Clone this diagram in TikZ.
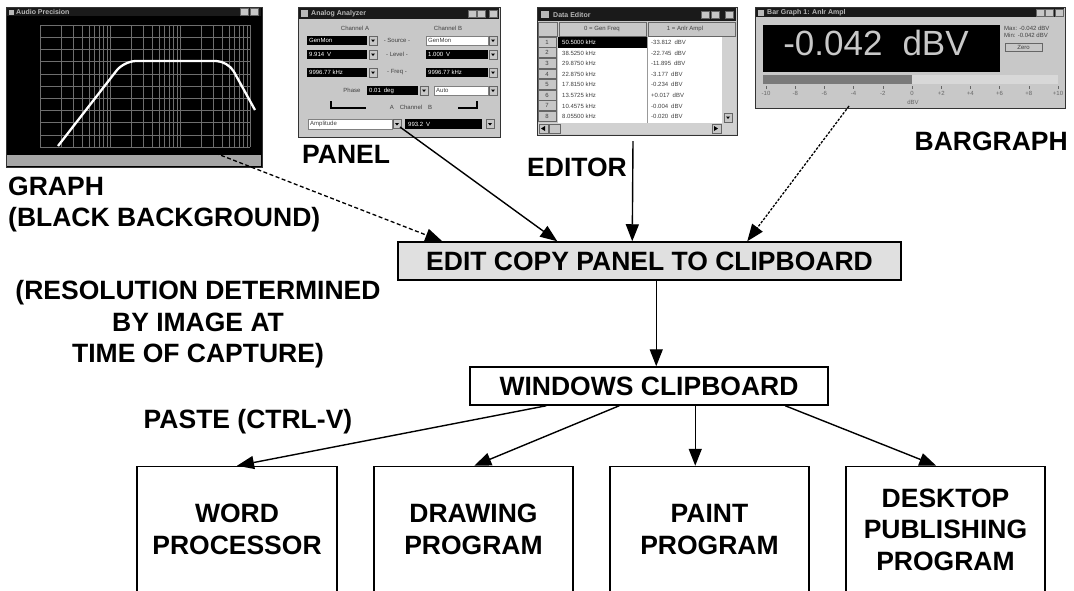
\documentclass[tikz,border=0pt]{standalone}
\usepackage{fontspec}
\setmainfont{Liberation Sans}
\usetikzlibrary{arrows.meta,calc}
\definecolor{winbg}{HTML}{C8C8C8}
\definecolor{titlec}{HTML}{1A1A1A}
\definecolor{titletx}{HTML}{B8B8B8}
\definecolor{gridc}{HTML}{6E6E6E}
\definecolor{editfill}{HTML}{E0E0E0}
\definecolor{bardark}{HTML}{7A7A7A}
\definecolor{barlight}{HTML}{D8D8D8}
\definecolor{dispfg}{HTML}{C8C8C8}
\tikzset{
  win/.style={draw=black!80, line width=1pt, fill=winbg, inner sep=0pt},
  tinytxt/.style={font=\fontsize{6}{7}\selectfont, inner sep=0pt, text=black!75},
  ttl/.style={font=\fontsize{7}{8}\selectfont\bfseries, inner sep=0pt, text=titletx},
  wht/.style={fill=white, draw=black!50, line width=0.4pt},
  btn/.style={fill=black!22, draw=black!60, line width=0.4pt},
  lbl/.style={font=\fontsize{26.5}{31.5}\selectfont\bfseries, inner sep=0pt},
  box/.style={draw, line width=1.5pt, inner sep=0pt},
  arr/.style={line width=1.4pt, -{Triangle[length=17pt,width=13pt]}},
  dsharr/.style={arr, dash pattern=on 4pt off 2.5pt, line width=1.3pt},
  dotarr/.style={arr, dash pattern=on 2.5pt off 1.5pt, line width=1.3pt},
  ddb/.pic={\draw[btn] (0,0) rectangle (8,9); \fill[black] (2,3.5) -- (6,3.5) -- (4,6) -- cycle;},
  tbtn/.pic={\draw[btn] (0,0) rectangle (8,7);}
}
\begin{document}
\begin{tikzpicture}[x=1pt,y=-1pt]
\useasboundingbox (0,0) rectangle (1074,590);
\clip (0,0) rectangle (1074,590);
\fill[white] (0,0) rectangle (1074,590);

% ================= GRAPH WINDOW =================
\node[win, fill=black, minimum width=256pt, minimum height=160pt] (graphwin) at (134,87) {};
\fill[titlec] (7,8) rectangle (261,16);
\node[ttl, anchor=west] (graphttl) at (16,12) {Audio Precision};
\fill[titletx] (9,9.5) rectangle (14,14.5);
\pic at (240,8.5) {tbtn};
\pic at (250,8.5) {tbtn};
\fill[black!35] (7,155) rectangle (261,166);
\foreach \k in {0,...,10} \draw[gridc, line width=0.5pt] (40,25+\k*12.2) -- (250,25+\k*12.2);
\foreach \d in {0,1,2} \foreach \k in {1,...,9} {
  \pgfmathsetmacro\xx{40+70*\d+70*log10(\k)}
  \draw[gridc, line width=0.5pt] (\xx,25) -- (\xx,147);
}
\draw[gridc, line width=0.5pt] (250,25) -- (250,147);
\draw[white, line width=2.3pt, rounded corners=12pt] (58,146) -- (124,61) -- (228,61) -- (255,110);

% ================= PANEL WINDOW =================
\node[win, minimum width=202pt, minimum height=130pt] (panelwin) at (399,72) {};
\fill[titlec] (299,8) rectangle (499,19);
\fill[titletx] (301,10) rectangle (308,17);
\node[ttl, anchor=west] (panelttl) at (311,13.5) {Analog Analyzer};
\pic at (468,10) {tbtn};
\pic at (477,10) {tbtn};
\pic at (489,10) {tbtn};
\node[tinytxt] (chA) at (355,28) {Channel A};
\node[tinytxt] (chB) at (448,28) {Channel B};
% row 1
\fill[black] (307,36) rectangle (367,45);
\node[tinytxt, text=white, anchor=west] (r1a) at (309,40.5) {GenMon};
\pic at (369,36) {ddb};
\node[tinytxt] (r1m) at (397,40.5) {- Source -};
\draw[wht] (426,36) rectangle (488,45);
\node[tinytxt, anchor=west] (r1b) at (428,40.5) {GenMon};
\pic at (489,36) {ddb};
% row 2
\fill[black] (307,50) rectangle (367,59);
\node[tinytxt, text=white, anchor=west] (r2a) at (309,54.5) {9.914\enspace V};
\pic at (369,50) {ddb};
\node[tinytxt] (r2m) at (397,54.5) {- Level -};
\fill[black] (426,50) rectangle (488,59);
\node[tinytxt, text=white, anchor=west] (r2b) at (428,54.5) {1.000\enspace V};
\pic at (489,50) {ddb};
% row 3
\fill[black] (307,68) rectangle (367,77);
\node[tinytxt, text=white, anchor=west] (r3a) at (309,72.5) {9996.77 kHz};
\pic at (369,68) {ddb};
\node[tinytxt] (r3m) at (397,72.5) {- Freq -};
\fill[black] (426,68) rectangle (488,77);
\node[tinytxt, text=white, anchor=west] (r3b) at (428,72.5) {9996.77 kHz};
\pic at (489,68) {ddb};
% phase row
\node[tinytxt] (phase) at (352,90.5) {Phase};
\fill[black] (367,86) rectangle (418,95);
\node[tinytxt, text=white, anchor=west] (phv) at (369,90.5) {0.01\enspace deg};
\pic at (420,86) {ddb};
\draw[wht] (434,86) rectangle (488,95);
\node[tinytxt, anchor=west] (pha) at (436,90.5) {Auto};
\pic at (489,86) {ddb};
% channel bracket row
\draw[black, line width=1.2pt] (331,101) -- (331,108) -- (366,108);
\draw[black, line width=1.2pt] (458,108) -- (477,108) -- (477,101);
\node[tinytxt] (chsel) at (411,107) {A\quad Channel\quad B};
% bottom row
\draw[wht] (308,119) rectangle (392,129);
\node[tinytxt, anchor=west] (ampl) at (310,124) {Amplitude};
\pic at (393,119.5) {ddb};
\fill[black] (405,119) rectangle (482,129);
\node[tinytxt, text=white, anchor=west] (amv) at (408,124) {993.2\enspace V};
\pic at (486,119.5) {ddb};

% ================= DATA EDITOR WINDOW =================
\node[win, minimum width=200pt, minimum height=128pt] (editwin) at (637,71) {};
\fill[titlec] (538,8) rectangle (736,21);
\fill[titletx] (541,11) rectangle (549,18);
\node[ttl, anchor=west] (editttl) at (553,14.5) {Data Editor};
\pic at (701,11) {tbtn};
\pic at (711,11) {tbtn};
\pic at (725,11) {tbtn};
\draw[btn] (538,22) rectangle (557,36);
\draw[btn] (559,22) rectangle (646,36);
\node[tinytxt] (h1) at (602,29) {0 = Gen Freq};
\draw[btn] (648,22) rectangle (735,36);
\node[tinytxt] (h2) at (685,29) {1 = Anlr Ampl};
\fill[white] (558,37) rectangle (722,123);
\fill[black] (558,37) rectangle (647,47.6);
\draw[black!40, line width=0.4pt] (647,37) -- (647,123);
\draw[btn] (538,37) rectangle (556,46.8);
\node[tinytxt] (rn1) at (547,42.3) {1};
\node[tinytxt, text=white, anchor=west] (ef1) at (562,42.3) {50.5000 kHz};
\node[tinytxt, anchor=west] (ea1) at (651,42.3) {-33.812\enspace dBV};
\foreach \i/\f/\a in {2/38.5250 kHz/-22.745,3/29.8750 kHz/-11.895,4/22.8750 kHz/-3.177,5/17.8150 kHz/-0.234,6/13.5725 kHz/+0.017,7/10.4575 kHz/-0.004,8/8.05500 kHz/-0.020}{
  \pgfmathsetmacro\yt{26.4+\i*10.6}
  \draw[btn] (538,\yt) rectangle (556,\yt+9.8);
  \node[tinytxt] (rn\i) at (547,\yt+5.3) {\i};
  \node[tinytxt, anchor=west] (ef\i) at (562,\yt+5.3) {\f};
  \node[tinytxt, anchor=west] (ea\i) at (651,\yt+5.3) {\a\enspace dBV};
}
\fill[black!18] (722,37) rectangle (736,123);
\pic at (724,113) {ddb};
\fill[black!18] (538,123) rectangle (736,134);
\draw[btn] (539,124) rectangle (548,133);
\fill[black] (541,128.5) -- (545,126) -- (545,131) -- cycle;
\draw[btn] (549,124) rectangle (560,133);
\draw[btn] (712,124) rectangle (721,133);
\fill[black] (718,128.5) -- (714,126) -- (714,131) -- cycle;

% ================= BAR GRAPH WINDOW =================
\node[win, minimum width=310pt, minimum height=101pt] (barwin) at (910,57.5) {};
\fill[titlec] (756,8) rectangle (1064,17);
\fill[titletx] (758,9.5) rectangle (764,15.5);
\node[ttl, anchor=west] (barttl) at (767,12.5) {Bar Graph 1: Anlr Ampl};
\pic at (1036,9) {tbtn};
\pic at (1045,9) {tbtn};
\pic at (1055,9) {tbtn};
\fill[black] (763,25) rectangle (1000,72);
\node[font=\fontsize{35}{35}\selectfont, text=dispfg, inner sep=0pt] (dispval) at (876,42.5) {-0.042\hspace{20pt}dBV};
\node[tinytxt, anchor=west] (maxv) at (1004,28) {Max: -0.042 dBV};
\node[tinytxt, anchor=west] (minv) at (1004,35) {Min: -0.042 dBV};
\draw[btn] (1005,43) rectangle (1042,51);
\node[tinytxt] (zero) at (1023.5,47) {Zero};
\fill[barlight] (763,75) rectangle (1058,84);
\fill[bardark] (763,75) rectangle (912,84);
\foreach \k [count=\n] in {-10,-8,-6,-4,-2,0,+2,+4,+6,+8,+10}{
  \pgfmathsetmacro\xt{766+(\n-1)*29.2}
  \draw[black!60, line width=0.4pt] (\xt,86) -- (\xt,89);
  \node[tinytxt, text=black!60] (tk\n) at (\xt,93) {\k};
}
\node[tinytxt, text=black!60] (barunit) at (913,102) {dBV};

% ================= LABELS =================
\node[lbl, anchor=base west] (graphlbl) at (8,195) {GRAPH};
\node[lbl, anchor=base west] (blackbg) at (8,226) {(BLACK BACKGROUND)};
\node[lbl, anchor=base west] (panellbl) at (302,163) {PANEL};
\node[lbl, anchor=base west] (editorlbl) at (527,176) {EDITOR};
\node[lbl, anchor=base east] (barlbl) at (1068,150) {BARGRAPH};
\node[lbl, anchor=base] (res1) at (198,299) {(RESOLUTION DETERMINED};
\node[lbl, anchor=base] (res2) at (198,331) {BY IMAGE AT};
\node[lbl, anchor=base] (res3) at (198,362) {TIME OF CAPTURE)};
\node[lbl, anchor=base] (paste) at (248,428) {PASTE (CTRL-V)};

% ================= FLOW BOXES =================
\node[box, lbl, fill=editfill, minimum width=503pt, minimum height=38pt] (edit) at (649.5,261) {EDIT COPY PANEL TO CLIPBOARD};
\node[box, lbl, fill=white, minimum width=358pt, minimum height=38pt] (wc) at (649,386) {WINDOWS CLIPBOARD};
\node[box, lbl, align=center, minimum width=200pt, minimum height=126pt] (word) at (237,529.5) {WORD\\PROCESSOR};
\node[box, lbl, align=center, minimum width=199pt, minimum height=126pt] (draw) at (473.5,529.5) {DRAWING\\PROGRAM};
\node[box, lbl, align=center, minimum width=199pt, minimum height=126pt] (paint) at (709.5,529.5) {PAINT\\PROGRAM};
\node[box, lbl, align=center, minimum width=199pt, minimum height=126pt] (desk) at (945.5,529.5) {DESKTOP\\PUBLISHING\\PROGRAM};

% ================= CONNECTORS =================
\coordinate (gsrc) at (215,153);
\coordinate (psrc) at (400,127);
\coordinate (esrc) at (633,141);
\coordinate (bsrc) at (849,106);
\draw[dsharr] (gsrc) -- ($(edit.north west)+(45,0)$);
\draw[arr] (psrc) -- ($(edit.north west)+(160,0)$);
\draw[arr] (esrc) -- ($(edit.north west)+(235,0)$);
\draw[dotarr] (bsrc) -- ($(edit.north west)+(350,0)$);
\draw[arr] ($(edit.south west)+(259,0)$) -- ($(wc.north west)+(187,0)$);
\draw[arr] ($(wc.south west)+(77,0)$) -- (word.north);
\draw[arr] ($(wc.south west)+(150,0)$) -- ($(draw.north west)+(101,0)$);
\draw[arr] ($(wc.south west)+(226,0)$) -- ($(paint.north west)+(86,0)$);
\draw[arr] ($(wc.south west)+(316,0)$) -- ($(desk.north west)+(91,0)$);
\end{tikzpicture}
\end{document}
